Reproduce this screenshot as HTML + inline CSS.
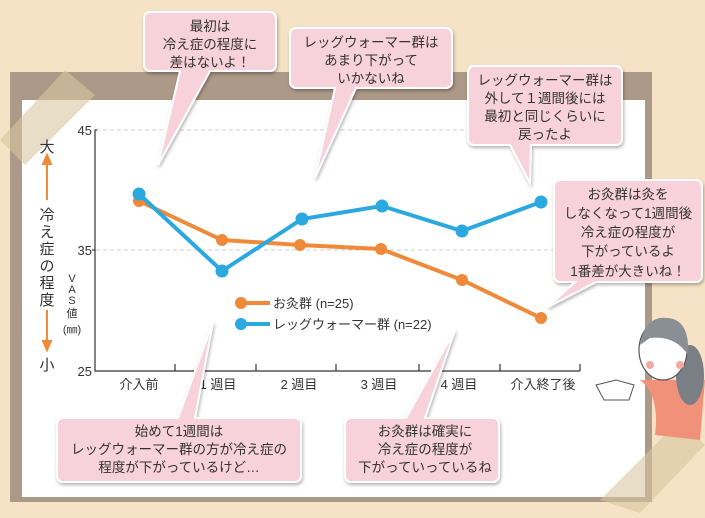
<!DOCTYPE html>
<html><head><meta charset="utf-8"><style>
body{margin:0;width:705px;height:513px;overflow:hidden;background:#f6e3c6;font-family:"Liberation Sans","Noto Sans CJK JP",sans-serif}
</style></head><body>
<svg width="705" height="513" xmlns="http://www.w3.org/2000/svg" font-family="Liberation Sans, Noto Sans CJK JP, sans-serif">
<defs><filter id="sh" x="-10%" y="-10%" width="130%" height="130%"><feDropShadow dx="1" dy="2" stdDeviation="1.5" flood-color="#000" flood-opacity="0.3"/></filter></defs>
<rect x="10" y="72" width="642" height="430" fill="#ad9987"/>
<rect x="22" y="100" width="623" height="397" fill="#fff"/>
<polygon points="0,140 65,70 95,95 25,165" fill="#d9c6a0" opacity="0.6"/>
<polygon points="600,500 680,420 705,445 640,513" fill="#d9c6a0" opacity="0.6"/>
<g stroke="#ccc" stroke-dasharray="4,3" stroke-width="1"><line x1="96" y1="130" x2="580" y2="130"/><line x1="96" y1="250" x2="580" y2="250"/></g>
<g stroke="#333" stroke-width="1.2" fill="none"><polyline points="97,130 95,130 95,371 580,371"/>
<line x1="175" y1="364" x2="175" y2="371"/><line x1="256" y1="364" x2="256" y2="371"/><line x1="336" y1="364" x2="336" y2="371"/><line x1="419" y1="364" x2="419" y2="371"/><line x1="500" y1="364" x2="500" y2="371"/><line x1="580" y1="364" x2="580" y2="371"/><line x1="92" y1="250" x2="95" y2="250"/></g>
<g font-size="13" fill="#333" text-anchor="end"><text x="92" y="135">45</text><text x="92" y="255">35</text><text x="92" y="376">25</text></g>
<g font-size="13" fill="#333" text-anchor="middle"><text x="139" y="389">介入前</text><text x="218" y="389">1 週目</text><text x="299" y="389">2 週目</text><text x="379" y="389">3 週目</text><text x="459" y="389">4 週目</text><text x="543" y="389">介入終了後</text></g>
<g font-size="15" fill="#333" text-anchor="middle"><text x="47" y="152">大</text><text x="47" y="370">小</text>
<text x="47" y="220">冷</text><text x="47" y="237">え</text><text x="47" y="254">症</text><text x="47" y="271">の</text><text x="47" y="288">程</text><text x="47" y="305">度</text></g>
<g fill="#ee8a3a" stroke="#ee8a3a" stroke-width="2"><line x1="47" y1="162" x2="47" y2="200"/><polygon points="43,164 51,164 47,155"/><line x1="47" y1="310" x2="47" y2="343"/><polygon points="43,341 51,341 47,350"/></g>
<g font-size="11" fill="#333" text-anchor="middle"><text x="72" y="282">V</text><text x="72" y="293">A</text><text x="72" y="304">S</text><text x="72" y="317">値</text><text x="72" y="333">(㎜)</text></g>
<polyline points="139,201 222,240 300,245 381,249 462,280 541,318" fill="none" stroke="#ee8a3a" stroke-width="4"/>
<g fill="#ee8a3a"><circle cx="139" cy="201" r="6"/><circle cx="222" cy="240" r="6"/><circle cx="300" cy="245" r="6"/><circle cx="381" cy="249" r="6"/><circle cx="462" cy="280" r="6"/><circle cx="541" cy="318" r="6"/></g>
<polyline points="139,194 222,271 302,219 382,206 462,231 541,202" fill="none" stroke="#2aa8df" stroke-width="4"/>
<g fill="#2aa8df"><circle cx="139" cy="194" r="6.5"/><circle cx="222" cy="271" r="6.5"/><circle cx="302" cy="219" r="6.5"/><circle cx="382" cy="206" r="6.5"/><circle cx="462" cy="231" r="6.5"/><circle cx="541" cy="202" r="6.5"/></g>
<line x1="240" y1="303" x2="270" y2="303" stroke="#ee8a3a" stroke-width="4"/><circle cx="241" cy="303" r="6" fill="#ee8a3a"/>
<line x1="240" y1="324" x2="270" y2="324" stroke="#2aa8df" stroke-width="4"/><circle cx="241" cy="324" r="6" fill="#2aa8df"/>
<g font-size="13" fill="#333"><text x="273" y="308">お灸群 (n=25)</text><text x="273" y="329">レッグウォーマー群 (n=22)</text></g>
<g fill="#f7d2da" stroke="#fff" stroke-width="2" filter="url(#sh)">
<path d="M150,12 h120 a6,6 0 0 1 6,6 v47 a6,6 0 0 1 -6,6 h-60 L158,165 L180,71 h-30 a6,6 0 0 1 -6,-6 v-47 a6,6 0 0 1 6,-6z"/>
<path d="M296,28 h150 a6,6 0 0 1 6,6 v48 a6,6 0 0 1 -6,6 h-90 L315,178 L335,88 h-39 a6,6 0 0 1 -6,-6 v-48 a6,6 0 0 1 6,-6z"/>
<path d="M474,66 h142 a6,6 0 0 1 6,6 v67 a6,6 0 0 1 -6,6 h-85 L530,183 L510,145 h-36 a6,6 0 0 1 -6,-6 v-67 a6,6 0 0 1 6,-6z"/>
<path d="M560,180 h136 a6,6 0 0 1 6,6 v90 a6,6 0 0 1 -6,6 h-100 L548,307 L575,282 h-15 a6,6 0 0 1 -6,-6 v-90 a6,6 0 0 1 6,-6z"/>
<path d="M63,418 h115 L213,322 L195,418 h100 a6,6 0 0 1 6,6 v52 a6,6 0 0 1 -6,6 h-232 a6,6 0 0 1 -6,-6 v-52 a6,6 0 0 1 6,-6z"/>
<path d="M351,418 h55 L455,330 L425,418 h68 a6,6 0 0 1 6,6 v52 a6,6 0 0 1 -6,6 h-142 a6,6 0 0 1 -6,-6 v-52 a6,6 0 0 1 6,-6z"/>
</g>
<g font-size="13.5" fill="#333" text-anchor="middle">
<text x="210" y="31">最初は</text><text x="210" y="49">冷え症の程度に</text><text x="210" y="67">差はないよ！</text>
<text x="371" y="47">レッグウォーマー群は</text><text x="371" y="65">あまり下がって</text><text x="371" y="83">いかないね</text>
<text x="545" y="85">レッグウォーマー群は</text><text x="545" y="103">外して１週間後には</text><text x="545" y="121">最初と同じくらいに</text><text x="545" y="139">戻ったよ</text>
<text x="628" y="199">お灸群は灸を</text><text x="628" y="218">しなくなって1週間後</text><text x="628" y="237">冷え症の程度が</text><text x="628" y="256">下がっているよ</text><text x="628" y="276">1番差が大きいね！</text>
<text x="179" y="436">始めて1週間は</text><text x="179" y="454">レッグウォーマー群の方が冷え症の</text><text x="179" y="472">程度が下がっているけど…</text>
<text x="425" y="436">お灸群は確実に</text><text x="425" y="454">冷え症の程度が</text><text x="425" y="472">下がっていっているね</text>
</g>
<g>
<path d="M640,380 Q660,395 655,435 L700,440 L705,380 Z" fill="#f2917a"/>
<ellipse cx="690" cy="375" rx="14" ry="30" fill="#7a7f86"/>
<ellipse cx="663" cy="350" rx="24" ry="30" fill="#fff" stroke="#555" stroke-width="1.2"/>
<path d="M640,345 Q645,315 668,318 Q690,320 688,355 Q675,335 650,338 Z" fill="#8a8f96"/>
<circle cx="650" cy="365" r="4" fill="#f4a6a0"/><circle cx="680" cy="365" r="4" fill="#f4a6a0"/>
<path d="M596,385 l20,-5 l18,5 l-5,15 l-25,0 z" fill="#fff" stroke="#555"/>
</g>
</svg>
</body></html>
